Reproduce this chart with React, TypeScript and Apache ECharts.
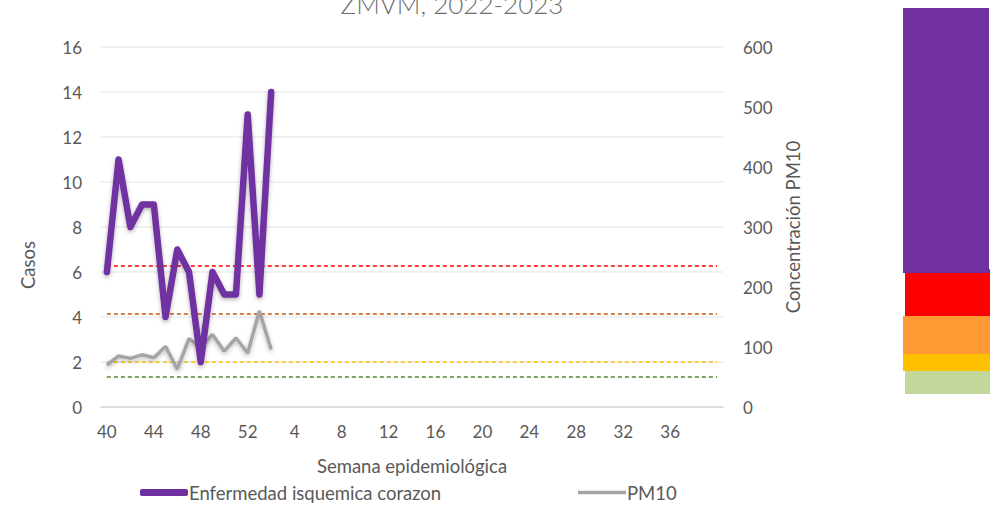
import React, { useEffect, useRef } from "react";
import * as echarts from "echarts";

const weeks: string[] = [
  "40","41","42","43","44","45","46","47","48","49","50","51","52",
  "1","2","3","4","5","6","7","8","9","10","11","12","13","14","15","16","17","18","19","20",
  "21","22","23","24","25","26","27","28","29","30","31","32","33","34","35","36","37","38","39","40",
];
const casos: number[] = [6, 11, 8, 9, 9, 4, 7, 6, 2, 6, 5, 5, 13, 5, 14];
const pm10: number[] = [70, 85, 81, 87, 82, 101, 63, 114, 99, 121, 93, 115, 90, 160, 96];
const thresholds = [
  { value: 235, color: "#FF0000" },
  { value: 155, color: "#C55A11" },
  { value: 75, color: "#FFC000" },
  { value: 50, color: "#548235" },
];
const leftTicks = [0, 16, 2];
const rightTicks = [0, 600, 100];

const FONT = "Lato, 'Open Sans', sans-serif";
const GREY = "#595959";

export default function App() {
  const ref = useRef<HTMLDivElement>(null);
  useEffect(() => {
    if (!ref.current) return;
    const chart = echarts.init(ref.current, undefined, { renderer: "svg" });
    const thresholdSeries = thresholds.map((t) => ({
      type: "line",
      yAxisIndex: 1,
      data: weeks.map(() => t.value),
      symbol: "none",
      silent: true,
      lineStyle: { color: t.color, width: 1.5, type: [4, 3] },
      z: 1,
    }));
    chart.setOption({
      animation: false,
      textStyle: { fontFamily: FONT },
      title: {
        text: "ZMVM, 2022-2023",
        left: 447,
        textAlign: "center",
        top: -14,
        textStyle: { fontSize: 26, fontWeight: 300, color: "#6E6E6E", fontFamily: FONT },
      },
      grid: { left: 101, right: 277, top: 47, bottom: 100 },
      legend: [
        {
          data: ["Enfermedad isquemica corazon"],
          left: 135,
          top: 478,
          itemWidth: 48,
          itemHeight: 7,
          itemGap: 2,
          icon: "roundRect",
          textStyle: { fontSize: 18.5, color: GREY, fontFamily: FONT, padding: [0, 0, 0, -4] },
        },
        {
          data: ["PM10"],
          left: 573,
          top: 478,
          itemWidth: 48,
          itemHeight: 3.5,
          icon: "rect",
          textStyle: { fontSize: 18.5, color: GREY, fontFamily: FONT, padding: [0, 0, 0, -4] },
        },
      ],
      xAxis: {
        type: "category",
        data: weeks,
        boundaryGap: true,
        name: "Semana epidemiológica",
        nameLocation: "middle",
        nameGap: 49,
        nameTextStyle: { fontSize: 18.5, color: GREY, fontFamily: FONT },
        axisLine: { lineStyle: { color: "#D9D9D9", width: 1.5 } },
        axisTick: { show: false },
        axisLabel: {
          interval: (i: number) => i % 4 === 0 && i < weeks.length - 1,
          fontSize: 17,
          color: GREY,
          margin: 16,
          fontFamily: FONT,
        },
      },
      yAxis: [
        {
          type: "value",
          min: leftTicks[0],
          max: leftTicks[1],
          interval: leftTicks[2],
          axisLabel: { fontSize: 17, color: GREY, margin: 19, fontFamily: FONT },
          axisLine: { show: false },
          splitLine: { lineStyle: { color: "#EDEDED", width: 1.5 } },
        },
        {
          type: "value",
          min: rightTicks[0],
          max: rightTicks[1],
          interval: rightTicks[2],
          name: "Concentración PM10",
          nameLocation: "middle",
          nameGap: 58,
          nameTextStyle: { fontSize: 18.5, color: GREY, fontFamily: FONT },
          axisLabel: { fontSize: 17, color: GREY, margin: 20, fontFamily: FONT },
          axisLine: { show: false },
          splitLine: { show: false },
        },
      ],
      series: [
        ...thresholdSeries,
        {
          name: "PM10",
          type: "line",
          yAxisIndex: 1,
          data: pm10,
          symbol: "none",
          lineStyle: { color: "#A5A5A5", width: 3.5, shadowColor: "rgba(0,0,0,0.25)", shadowBlur: 4, shadowOffsetY: 2 },
          itemStyle: { color: "#A5A5A5" },
          z: 3,
        },
        {
          name: "Enfermedad isquemica corazon",
          type: "line",
          yAxisIndex: 0,
          data: casos,
          symbol: "none",
          lineStyle: { color: "#7030A0", width: 6.5, cap: "round", join: "round", shadowColor: "rgba(0,0,0,0.3)", shadowBlur: 4, shadowOffsetY: 2 },
          itemStyle: { color: "#7030A0" },
          z: 4,
        },
      ],
      graphic: [
        {
          type: "text",
          x: 28,
          y: 265,
          rotation: Math.PI / 2,
          style: { text: "Casos", fontSize: 18.5, fill: GREY, fontFamily: FONT, align: "center", verticalAlign: "middle" },
        },
        { type: "rect", shape: { x: 905, y: 269, width: 85, height: 47 }, style: { fill: "#FF0000" } },
        { type: "rect", shape: { x: 903, y: 8, width: 86, height: 265 }, style: { fill: "#7030A0" } },
        { type: "rect", shape: { x: 903, y: 316, width: 87, height: 38 }, style: { fill: "#FF9933" } },
        { type: "rect", shape: { x: 903, y: 354, width: 87, height: 17 }, style: { fill: "#FFC000" } },
        { type: "rect", shape: { x: 905, y: 371, width: 85, height: 23 }, style: { fill: "#C4D79B" } },
      ],
    });
    return () => chart.dispose();
  }, []);
  return <div ref={ref} style={{ width: 1000, height: 507, position: "absolute", left: 0, top: 0 }} />;
}
